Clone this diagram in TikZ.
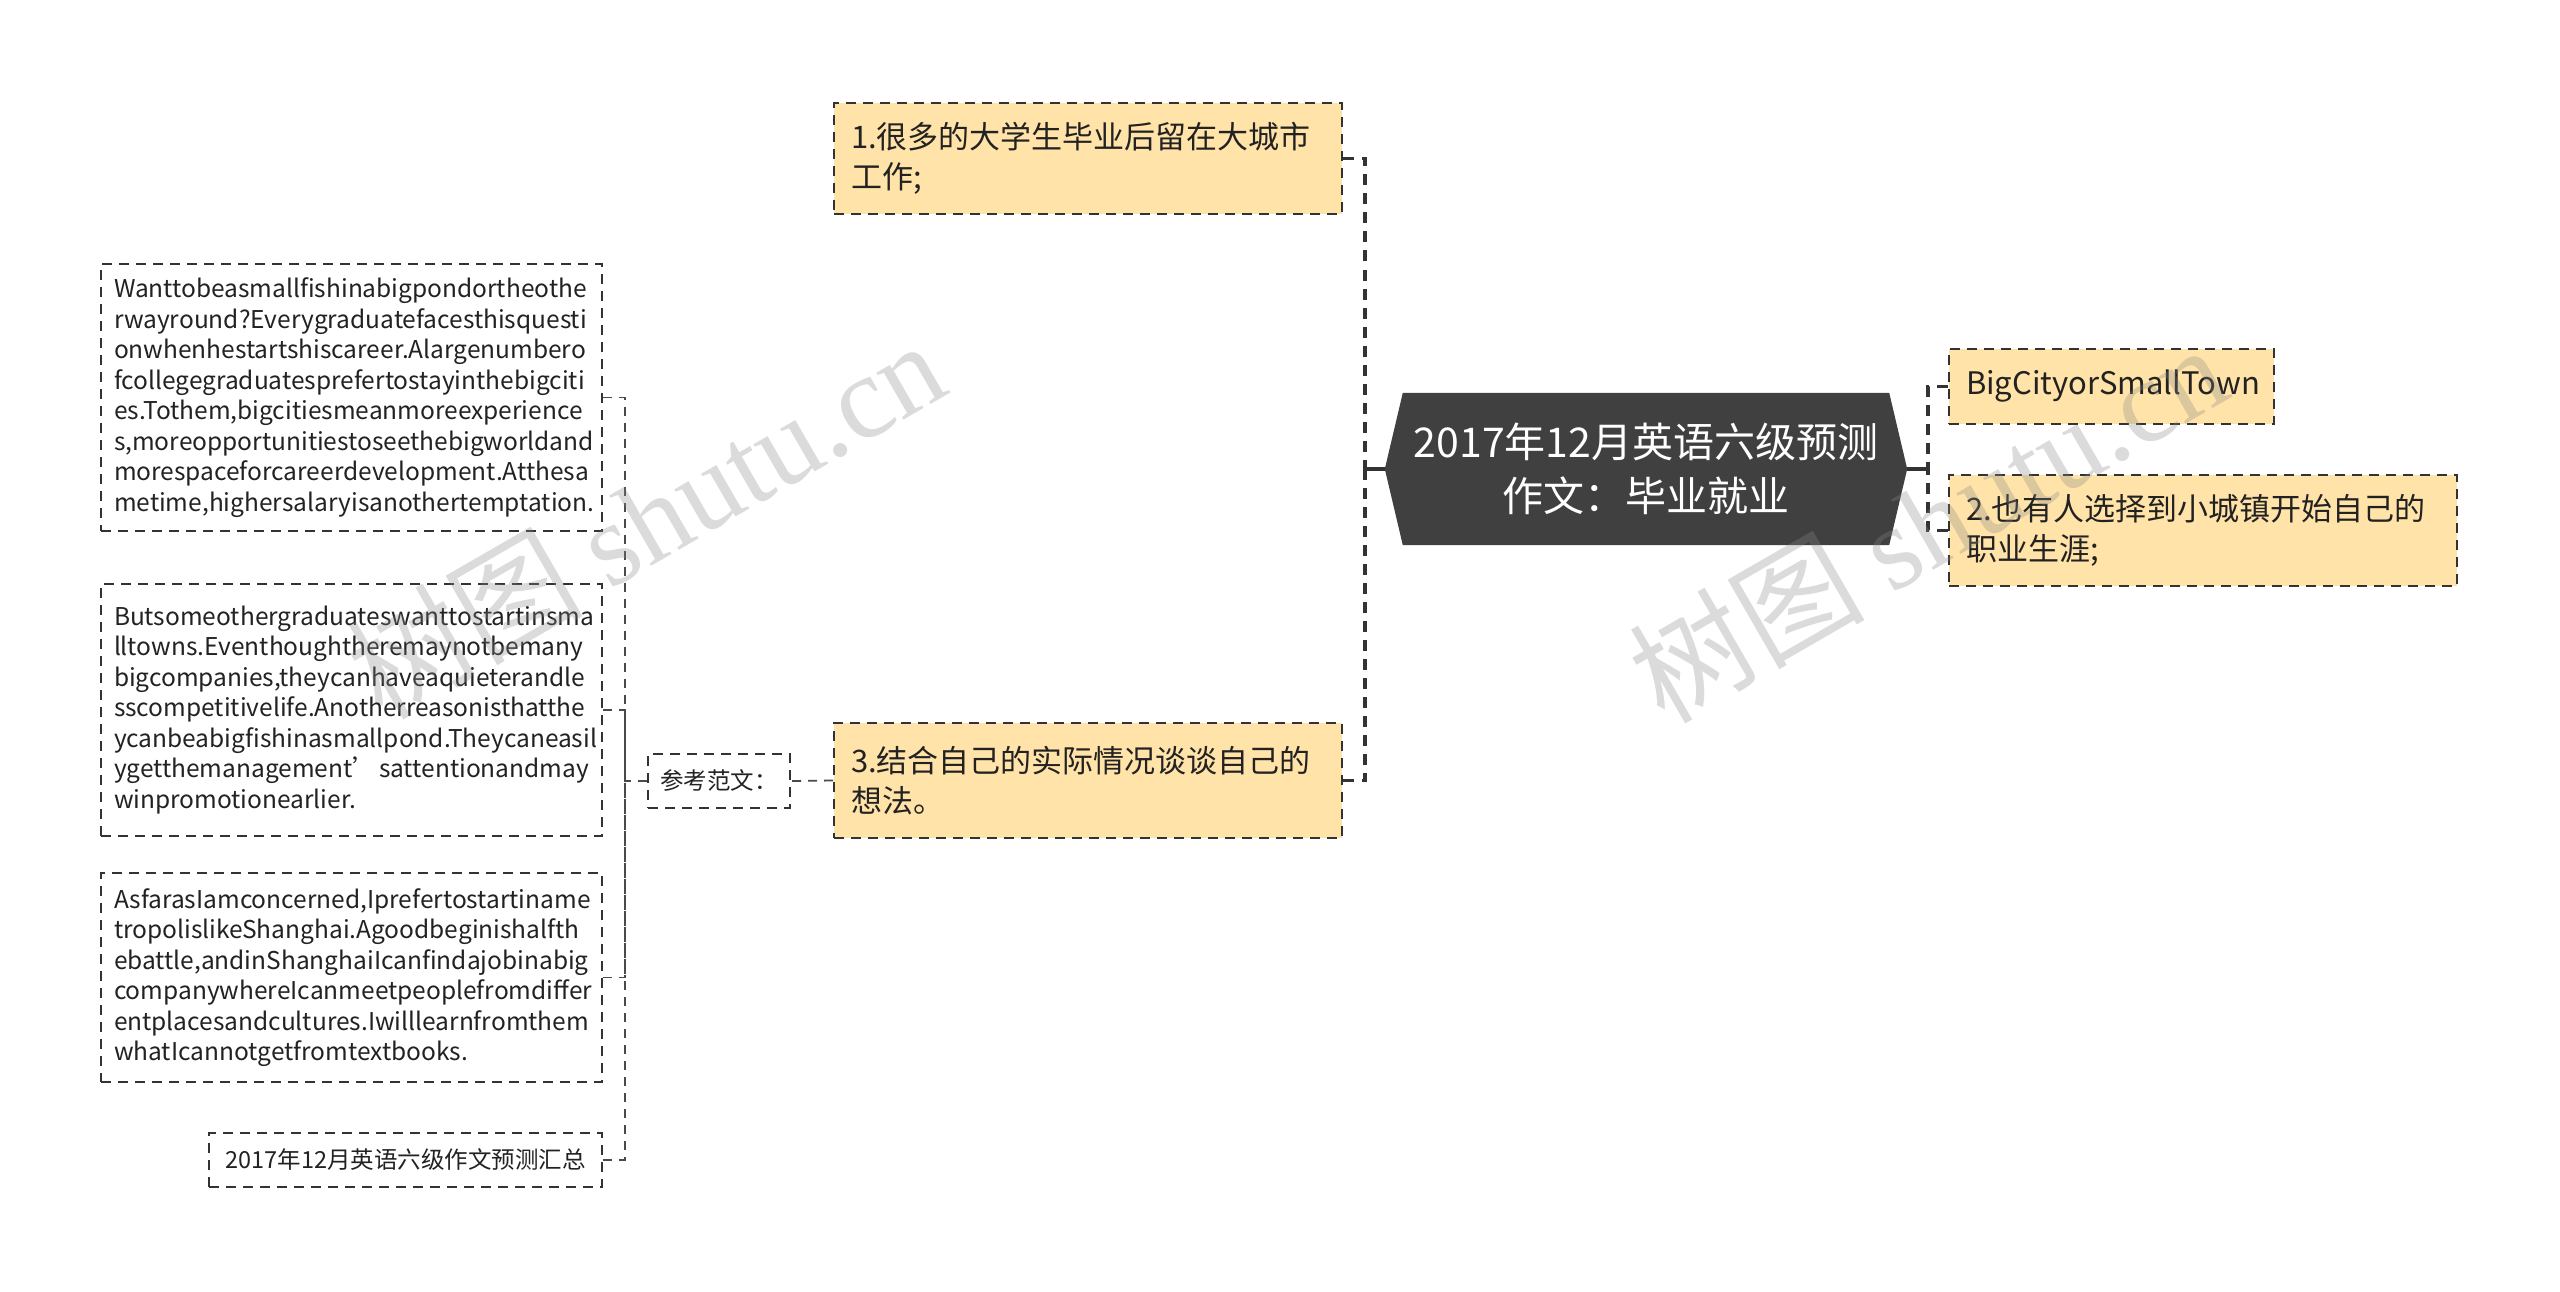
\documentclass[tikz,border=0pt]{standalone}
\usepackage{fontspec}
\setmainfont{Noto Sans CJK SC}
\newfontfamily\wmlatin{Liberation Serif}
\usetikzlibrary{calc,backgrounds}
\definecolor{boxfill}{HTML}{FFE3A8}
\definecolor{centralfill}{HTML}{404040}
\definecolor{edgecol}{HTML}{333333}
\definecolor{thinedge}{HTML}{4A4A4A}
\definecolor{txtcol}{HTML}{222222}
\definecolor{wmcol}{HTML}{888888}
\begin{document}
\begin{tikzpicture}[x=1pt,y=-1pt,
  every node/.style={execute at begin node={\hyphenpenalty=10000\exhyphenpenalty=10000}},
  topicbox/.style={draw=edgecol, line width=2pt, dash pattern=on 10pt off 7pt, fill=boxfill,
    inner sep=0pt, align=left, text=txtcol, font=\fontsize{31}{40.5}\selectfont},
  parabox/.style={draw=edgecol, line width=1.8pt, dash pattern=on 10pt off 7pt, fill=white,
    inner sep=0pt, align=left, text=txtcol, font=\fontsize{24.5}{30.5}\selectfont},
  smallbox/.style={draw=edgecol, line width=1.8pt, dash pattern=on 10pt off 7pt, fill=white,
    inner sep=0pt, align=center, text=txtcol, font=\fontsize{23.5}{28}\selectfont},
  mainlink/.style={draw=edgecol, line width=3.5pt, dash pattern=on 11pt off 8pt},
  mainstub/.style={draw=edgecol, line width=3.5pt},
  sublink/.style={draw=thinedge, line width=1.8pt, dash pattern=on 9pt off 7pt},
  wmark/.style={text=wmcol, opacity=0.3, font=\fontsize{118}{130}\selectfont, inner sep=0pt}
]
\useasboundingbox (0,0) rectangle (2560,1292);

% central topic
\node[minimum width=522pt, minimum height=152pt, inner sep=0pt, text=white, align=center,
  font=\fontsize{41}{54}\selectfont] (c) at (1646,469) {2017年12月英语六级预测\\作文：毕业就业};
\begin{scope}[on background layer]
\fill[white] (0,0) rectangle (2560,1292);
\fill[centralfill] (c.west) -- ($(c.north west)+(18,0)$) -- ($(c.north east)+(-18,0)$) -- (c.east)
  -- ($(c.south east)+(-18,0)$) -- ($(c.south west)+(18,0)$) -- cycle;
\end{scope}

% first level topics
\node[topicbox, minimum width=508pt, minimum height=111pt, text width=474pt] (b1) at (1088,158.5)
  {1.很多的大学生毕业后留在大城市\\工作;};
\node[topicbox, minimum width=508pt, minimum height=115pt, text width=474pt] (b3) at (1088,780.5)
  {3.结合自己的实际情况谈谈自己的\\想法。};
\node[topicbox, minimum width=325pt, minimum height=75pt, text width=291pt] (bc) at (2111.5,386.5)
  {BigCityorSmallTown};
\node[topicbox, minimum width=508pt, minimum height=111pt, text width=474pt] (b2) at (2203,530.5)
  {2.也有人选择到小城镇开始自己的\\职业生涯;};

% second level
\node[smallbox, minimum width=142pt, minimum height=54pt] (ck) at (719,781) {参考范文：};

\node[parabox, minimum width=501pt, minimum height=267pt, text width=475pt] (p1) at (351.5,397.5)
  {Wanttobeasmallfishinabigpondortheothe\\
   rwayround?Everygraduatefacesthisquesti\\
   onwhenhestartshiscareer.Alargenumbero\\
   fcollegegraduatesprefertostayinthebigciti\\
   es.Tothem,bigcitiesmeanmoreexperience\\
   s,moreopportunitiestoseethebigworldand\\
   morespaceforcareerdevelopment.Atthesa\\
   metime,highersalaryisanothertemptation.};
\node[parabox, minimum width=501pt, minimum height=252pt, text width=475pt] (p2) at (351.5,710)
  {Butsomeothergraduateswanttostartinsma\\
   lltowns.Eventhoughtheremaynotbemany\\
   bigcompanies,theycanhaveaquieterandle\\
   sscompetitivelife.Anotherreasonisthatthe\\
   ycanbeabigfishinasmallpond.Theycaneasil\\
   ygetthemanagement’\hfill sattentionandmay\hspace*{12pt}\\
   winpromotionearlier.};
\node[parabox, minimum width=501pt, minimum height=209pt, text width=475pt] (p3) at (351.5,977.5)
  {AsfarasIamconcerned,Iprefertostartiname\\
   tropolislikeShanghai.Agoodbeginishalfth\\
   ebattle,andinShanghaiIcanfindajobinabig\\
   companywhereIcanmeetpeoplefromdiffer\\
   entplacesandcultures.Iwilllearnfromthem\\
   whatIcannotgetfromtextbooks.};
\node[smallbox, minimum width=393pt, minimum height=54pt] (last) at (405.5,1160)
  {2017年12月英语六级作文预测汇总};

% junctions
\coordinate (jl) at (1365,469);
\coordinate (jr) at (1928,469);
\coordinate (jk) at (625,781);

% connectors from central topic
\draw[mainstub] (c.west) -- (jl);
\draw[mainlink] (b1.east) -| (jl);
\draw[mainlink] (b3.east) -| (jl);
\draw[mainstub] (c.east) -- (jr);
\draw[mainlink] (bc.west) -| (jr);
\draw[mainlink] (b2.west) -| (jr);

% connectors of 参考范文
\draw[sublink] (b3.west) -- (ck.east);
\draw[sublink] (ck.west) -- (jk);
\draw[sublink] (p1.east) -| (jk);
\draw[sublink] (p2.east) -| (jk);
\draw[sublink] (p3.east) -| (jk);
\draw[sublink] (last.east) -| (jk);

% watermarks
\node[wmark, rotate=30] (wm1) at (645,518) {树图 {\wmlatin shutu.cn}};
\node[wmark, rotate=30] (wm2) at (1927,522) {树图 {\wmlatin shutu.cn}};
\end{tikzpicture}
\end{document}
